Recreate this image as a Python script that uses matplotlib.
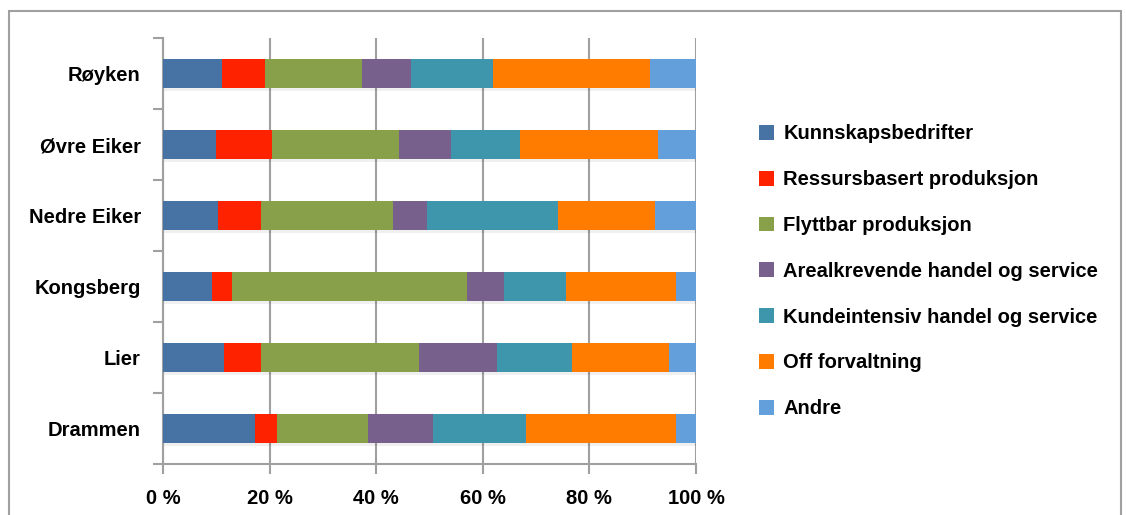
import numpy as np
import matplotlib.pyplot as plt
from matplotlib.patches import Rectangle
from matplotlib import font_manager

# Kommuner (nederst til øverst)
kommuner = ['Drammen', 'Lier', 'Kongsberg', 'Nedre Eiker', 'Øvre Eiker', 'Røyken']

# Andel per næringstype (%), samme rekkefølge som kommuner
kunnskap = [17.2, 11.5, 9.2, 10.4, 10.0, 11.1]
ressurs = [4.1, 6.8, 3.8, 7.9, 10.5, 8.0]
flyttbar = [17.2, 29.7, 44.1, 24.8, 23.7, 18.3]
areal = [12.1, 14.7, 6.8, 6.4, 9.8, 9.1]
kunde = [17.5, 14.1, 11.7, 24.6, 12.9, 15.5]
off = [28.1, 18.2, 20.6, 18.2, 25.9, 29.3]
andre = [3.8, 5.0, 3.8, 7.7, 7.2, 8.7]

serier = ['Kunnskapsbedrifter', 'Ressursbasert produksjon', 'Flyttbar produksjon',
          'Arealkrevende handel og service', 'Kundeintensiv handel og service',
          'Off forvaltning', 'Andre']
farger = ['#4672a4', '#ff2200', '#89a04b', '#77608c', '#3d96ab', '#ff7c00', '#63a0db']

skrift = font_manager.FontProperties(family='Liberation Sans', weight='bold', size=14.5)

fig = plt.figure(figsize=(11.26, 5.15), dpi=100)
ax = fig.add_axes([0.1448, 0.099, 0.4733, 0.8272])

data = np.array([kunnskap, ressurs, flyttbar, areal, kunde, off, andre])
data = data / data.sum(axis=0) * 100
y = np.arange(len(kommuner))
venstre = np.zeros(len(kommuner))

# Skygge under stolpene
ax.barh(y - 0.04, 100, height=0.4, color='#000000', alpha=0.06, zorder=2)

for verdier, navn, farge in zip(data, serier, farger):
    ax.barh(y, verdier, left=venstre, height=0.4, color=farge, label=navn, zorder=3)
    venstre += verdier

ax.set_xlim(0, 100)
ax.set_ylim(-0.5, len(kommuner) - 0.5)
ax.set_xticks(np.arange(0, 101, 20))
ax.set_xticklabels([f'{v} %' for v in range(0, 101, 20)], fontproperties=skrift)
ax.set_yticks(y)
ax.set_yticklabels(kommuner, fontproperties=skrift)
ax.set_yticks(np.arange(-0.5, len(kommuner), 1), minor=True)

ax.grid(axis='x', color='#a0a0a0', linewidth=1.5, zorder=0)
ax.set_axisbelow(True)
for s in ['top', 'right']:
    ax.spines[s].set_visible(False)
for s in ['left', 'bottom']:
    ax.spines[s].set_color('#a0a0a0')
    ax.spines[s].set_linewidth(1.5)

ax.tick_params(axis='y', which='major', length=0, pad=16)
ax.tick_params(axis='y', which='minor', length=7, width=1.5, color='#a0a0a0')
ax.tick_params(axis='x', length=7, width=1.5, color='#a0a0a0', pad=11)

handles, labels = ax.get_legend_handles_labels()
fig.legend(handles, labels, loc='upper left', bbox_to_anchor=(0.667, 0.774),
           frameon=False, prop=skrift, handlelength=0.75, handleheight=0.75,
           handletextpad=0.45, labelspacing=1.33, borderaxespad=0)

# Ramme rundt diagrammet
fig.patches.append(Rectangle((0.008, -0.1), 0.988, 1.0786, transform=fig.transFigure,
                             fill=False, edgecolor='#a0a0a0', linewidth=1.5))

fig.savefig('out.png', dpi=100)
